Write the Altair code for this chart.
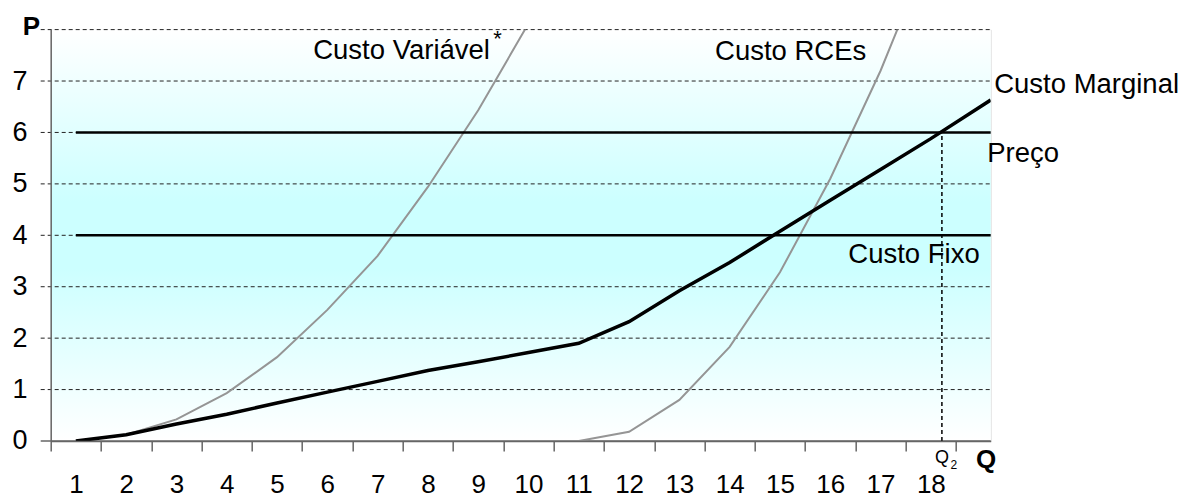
import altair as alt
import pandas as pd

# ---------------- data ----------------
Q_MARGINAL = [1, 2, 3, 4, 5, 6, 7, 8, 9, 10, 11, 12, 13, 14, 15, 16, 17, 18, 19.19]
CUSTO_MARGINAL = [0.0, 0.12, 0.33, 0.52, 0.74, 0.95, 1.16, 1.37, 1.54, 1.72, 1.9,
                  2.32, 2.92, 3.47, 4.08, 4.68, 5.28, 5.88, 6.63]

Q_VARIAVEL = [1, 2, 3, 4, 5, 6, 7, 8, 9, 10]
CUSTO_VARIAVEL = [0.0, 0.12, 0.42, 0.93, 1.63, 2.55, 3.6, 4.94, 6.43, 8.12]

Q_RCES = [1, 2, 3, 4, 5, 6, 7, 8, 9, 10, 11, 12, 13, 14, 15, 16, 17, 18]
CUSTO_RCES = [0, 0, 0, 0, 0, 0, 0, 0, 0, 0, 0, 0.18, 0.8, 1.83, 3.28, 5.1, 7.2, 9.6]

PRECO = 6.0
CUSTO_FIXO = 4.0
Q_INICIO = 1.0
Q_FIM = 19.19
Q2 = 18.22

X_TICKS = [0.5, 1.5, 2.5, 3.5, 4.5, 5.5, 6.5, 7.5, 8.5, 9.5, 10.5, 11.5, 12.5,
           13.5, 14.5, 15.5, 16.5, 17.5, 18.5]
Y_LABELS = [0, 1, 2, 3, 4, 5, 6, 7]
Y_GRID = [1, 2, 3, 4, 5, 6, 7, 8]

ANN_TEXT = ["Custo Variável", "Custo RCEs", "Custo Marginal", "Preço", "Custo Fixo"]
ANN_X = [5.72, 13.71, 19.26, 19.12, 16.36]
ANN_Y = [7.43, 7.41, 6.76, 5.43, 3.46]

# ---------------- styling ----------------
W, H = 940, 411.4
FONT = "Liberation Sans"
AX = "#666666"
GREY = "#959595"

XSCALE = alt.Scale(domain=[0.5, 19.19], nice=False, zero=False)
YSCALE = alt.Scale(domain=[0, 8], nice=False, zero=False)

XAXIS = alt.Axis(values=X_TICKS, title=None, grid=False, domainColor=AX, domainWidth=1.5,
                 tickColor=AX, tickSize=10, tickWidth=1.5,
                 labelExpr="datum.value < 18 ? format(datum.value + 0.5, 'd') : ''",
                 labelOffset=25.15, labelPadding=20.5, labelFontSize=26, labelFont=FONT,
                 labelColor="#000000", labelOverlap=False, labelFlush=False,
                 labelBound=False, zindex=1)
YAXIS = alt.Axis(values=Y_LABELS, title=None, grid=False, domainColor=AX, domainWidth=1.5,
                 ticks=True, tickSize=10, tickOpacity=0, labelPadding=13.7,
                 labelFontSize=27, labelFont=FONT, labelColor="#000000",
                 labelOverlap=False, labelFlush=False, labelBound=False, zindex=1)


def xe(field):
    return alt.X(field, type="quantitative", scale=XSCALE, axis=XAXIS)


def ye(field):
    return alt.Y(field, type="quantitative", scale=YSCALE, axis=YAXIS)


gradient = {
    "gradient": "linear",
    "x1": 0, "y1": 0, "x2": 0, "y2": 1,
    "stops": [
        {"offset": 0.0, "color": "#ffffff"},
        {"offset": 0.42, "color": "#ccffff"},
        {"offset": 0.58, "color": "#ccffff"},
        {"offset": 1.0, "color": "#ffffff"},
    ],
}

bg = alt.Chart(pd.DataFrame({"a": [0]})).mark_rect(fill=gradient).encode(
    x=alt.value(0), x2=alt.value(W), y=alt.value(0), y2=alt.value(H)
)

grid = alt.Chart(pd.DataFrame({"v": Y_GRID})).mark_rule(
    color="#222222", strokeWidth=1, strokeDash=[4, 3]
).encode(y=ye("v"), x=alt.value(-10), x2=alt.value(W))

zero = alt.Chart(pd.DataFrame({"v": [0]})).mark_rule(
    color=AX, strokeWidth=1.5
).encode(y=ye("v"), x=alt.value(-10), x2=alt.value(W))

df_var = pd.DataFrame({"q": Q_VARIAVEL, "v": CUSTO_VARIAVEL})
df_rce = pd.DataFrame({"q": Q_RCES, "v": CUSTO_RCES})
df_mar = pd.DataFrame({"q": Q_MARGINAL, "v": CUSTO_MARGINAL})

var_line = alt.Chart(df_var).mark_line(color=GREY, strokeWidth=2, clip=True).encode(
    x=xe("q"), y=ye("v"))
rce_line = alt.Chart(df_rce).mark_line(color=GREY, strokeWidth=2, clip=True).encode(
    x=xe("q"), y=ye("v"))

df_h = pd.DataFrame({"q": [Q_INICIO, Q_INICIO], "q2": [Q_FIM, Q_FIM], "v": [PRECO, CUSTO_FIXO]})
hlines = alt.Chart(df_h).mark_rule(color="#000000", strokeWidth=2.5).encode(
    x=xe("q"), x2="q2", y=ye("v"))

mar_line = alt.Chart(df_mar).mark_line(color="#000000", strokeWidth=3.5, clip=True).encode(
    x=xe("q"), y=ye("v"))

df_q2 = pd.DataFrame({"q": [Q2], "v": [0], "v2": [PRECO]})
q2_line = alt.Chart(df_q2).mark_rule(color="#000000", strokeWidth=1.5, strokeDash=[4, 3]).encode(
    x=xe("q"), y=ye("v"), y2="v2")

df_ann = pd.DataFrame({"q": ANN_X, "v": ANN_Y, "t": ANN_TEXT})
ann = alt.Chart(df_ann).mark_text(
    font=FONT, fontSize=27.5, align="left", baseline="alphabetic", color="#000000"
).encode(x=xe("q"), y=ye("v"), text="t")

star = alt.Chart(pd.DataFrame({"q": [9.30], "v": [7.68], "t": ["*"]})).mark_text(
    font=FONT, fontSize=22, align="left", baseline="alphabetic", color="#000000"
).encode(x=xe("q"), y=ye("v"), text="t")

bold = alt.Chart(pd.DataFrame({"q": [0.118, 19.1], "v": [7.895, -0.525], "t": ["P", "Q"]})).mark_text(
    font=FONT, fontSize=26, fontWeight="bold", align="center", baseline="alphabetic", color="#000000"
).encode(x=xe("q"), y=ye("v"), text="t")

q2_q = alt.Chart(pd.DataFrame({"q": [Q2], "v": [-0.43], "t": ["Q"]})).mark_text(
    font=FONT, fontSize=18, align="center", baseline="alphabetic", color="#000000"
).encode(x=xe("q"), y=ye("v"), text="t")

q2_sub = alt.Chart(pd.DataFrame({"q": [18.39], "v": [-0.545], "t": ["2"]})).mark_text(
    font=FONT, fontSize=12, align="left", baseline="alphabetic", color="#000000"
).encode(x=xe("q"), y=ye("v"), text="t")

chart = alt.layer(
    bg, grid, zero, var_line, rce_line, hlines, mar_line, q2_line,
    ann, star, bold, q2_q, q2_sub
).properties(
    width=W, height=H,
    autosize=alt.AutoSizeParams(type="none"),
    padding={"left": 42.7, "top": 21.6, "right": 191, "bottom": 57},
).configure_view(stroke=None).configure(background="#ffffff")

chart.save("out.html", embed_options={"renderer": "svg", "actions": False})
